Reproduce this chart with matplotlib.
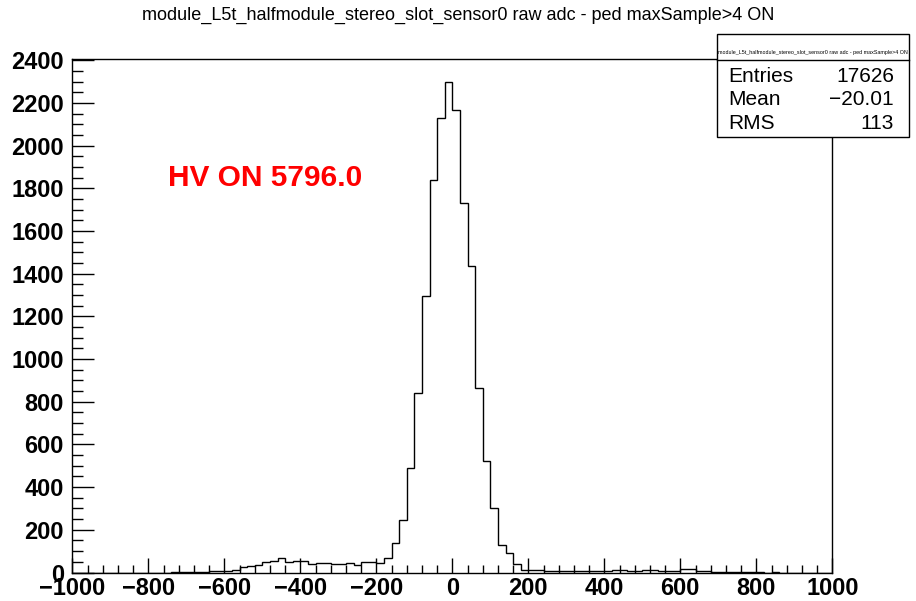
import numpy as np
import matplotlib
matplotlib.use('Agg')
from matplotlib import pyplot as plt
from matplotlib.patches import Rectangle
from matplotlib.ticker import MultipleLocator

plt.rcParams['font.family'] = ['Liberation Sans', 'DejaVu Sans']

# histogram: 100 bins of width 20 from -1000 to 1000
bin_edges = np.arange(-1000, 1001, 20)
counts = [0, 0, 0, 0, 0, 0, 0, 0, 0, 0,
          0, 0, 0, 1, 3, 2, 4, 3, 6, 7,
          8, 12, 28, 30, 34, 47, 52, 67, 47, 52,
          55, 39, 44, 43, 42, 39, 44, 36, 47, 49,
          45, 70, 138, 248, 491, 840, 1297, 1838, 2127, 2298,
          2168, 1730, 1437, 865, 520, 302, 127, 92, 40, 14,
          11, 10, 8, 7, 8, 5, 8, 7, 8, 5,
          5, 11, 10, 9, 9, 11, 10, 9, 5, 5,
          16, 15, 8, 7, 3, 3, 2, 1, 2, 1,
          1, 0, 1, 0, 0, 0, 0, 0, 0, 0]

title = 'module_L5t_halfmodule_stereo_slot_sensor0 raw adc - ped maxSample>4 ON'
stat_names = ['Entries', 'Mean', 'RMS']
stat_values = ['17626', '\u221220.01', '113']
label = 'HV ON 5796.0'

W, H = 916, 601
fig = plt.figure(figsize=(W / 100, H / 100), dpi=100)
# frame in pixels: left 72, right 832, top 59, bottom 572.5
ax = fig.add_axes([72.3 / W, 1 - 572.5 / H, (832.3 - 72.3) / W, (572.5 - 59.3) / H])

ax.stairs(counts, bin_edges, color='black', lw=1.0, baseline=0)
ax.set_xlim(-1000, 1000)
ax.set_ylim(0, 2404)

ax.xaxis.set_major_locator(MultipleLocator(200))
ax.xaxis.set_minor_locator(MultipleLocator(40))
ax.yaxis.set_major_locator(MultipleLocator(200))
ax.yaxis.set_minor_locator(MultipleLocator(50))
ax.tick_params(axis='x', which='major', direction='in', length=11, width=1, pad=3)
ax.tick_params(axis='x', which='minor', direction='in', length=5.5, width=1)
ax.tick_params(axis='y', which='major', direction='in', length=16, width=1, pad=6)
ax.tick_params(axis='y', which='minor', direction='in', length=8, width=1)
for lab in ax.get_xticklabels() + ax.get_yticklabels():
    lab.set_fontsize(17)
    lab.set_fontweight('bold')
for sp in ax.spines.values():
    sp.set_linewidth(1)

fig.text(0.5, 1 - 20 / H, title, ha='center', va='baseline', fontsize=13)

fig.text(168 / W, 1 - 186 / H, label, color='red', fontsize=21.5, fontweight='bold',
         ha='left', va='baseline')

# stats box
bx0, bx1 = 717.3 / W, 909 / W
by0, by1 = 1 - 137.3 / H, 1 - 34.3 / H
fig.patches.append(Rectangle((bx0, by0), bx1 - bx0, by1 - by0, transform=fig.transFigure,
                             facecolor='white', edgecolor='black', lw=1, zorder=5))
fig.add_artist(plt.Line2D([bx0, bx1], [1 - 60 / H, 1 - 60 / H], transform=fig.transFigure,
                          color='black', lw=1, zorder=6))
fig.text((bx0 + bx1) / 2, 1 - 54 / H, title, ha='center', va='baseline', fontsize=3.9, zorder=7)
for i, (n, v) in enumerate(zip(stat_names, stat_values)):
    yb = 1 - (81.7 + 23.5 * i) / H
    fig.text(728 / W, yb, n, ha='left', va='baseline', fontsize=15, zorder=7)
    fig.text(894 / W, yb, v, ha='right', va='baseline', fontsize=15, zorder=7)

fig.savefig('out.png', dpi=100)
